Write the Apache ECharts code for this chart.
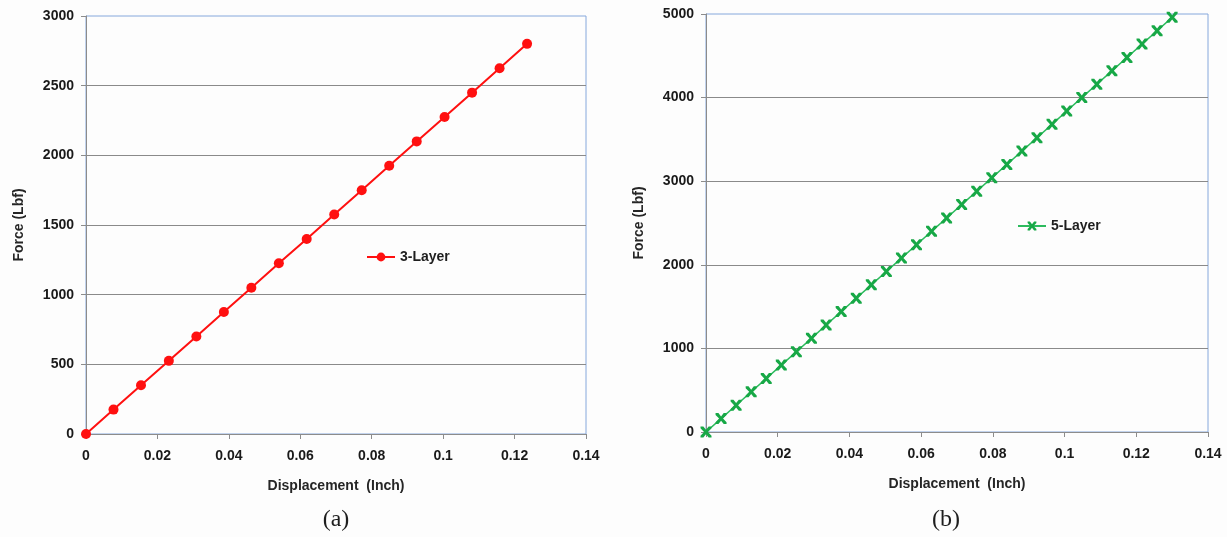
<!DOCTYPE html>
<html>
<head>
<meta charset="utf-8">
<script src="https://cdn.jsdelivr.net/npm/echarts@6/dist/echarts.min.js"></script>
<style>
  html, body { margin: 0; padding: 0; background: #fff; }
  #main { width: 1227px; height: 537px; }
</style>
</head>
<body>
<div id="main"></div>
<script>
// (a) 3-Layer
const disp3 = [0, 0.0077, 0.0154, 0.0232, 0.0309, 0.0386, 0.0463, 0.054, 0.0618, 0.0695, 0.0772, 0.0849, 0.0926, 0.1004, 0.1081, 0.1158, 0.1235]
const force3 = [0, 175, 350, 525, 700, 875, 1050, 1225, 1400, 1575, 1750, 1925, 2100, 2275, 2450, 2625, 2800]
// (b) 5-Layer
const disp5 = [0, 0.0042, 0.0084, 0.0126, 0.0168, 0.021, 0.0252, 0.0294, 0.0335, 0.0377, 0.0419, 0.0461, 0.0503, 0.0545, 0.0587, 0.0629,
  0.0671, 0.0713, 0.0755, 0.0797, 0.0839, 0.0881, 0.0923, 0.0965, 0.1006, 0.1048, 0.109, 0.1132, 0.1174, 0.1216, 0.1258, 0.13]
const force5 = [0, 160, 320, 480, 640, 800, 960, 1120, 1280, 1440, 1600, 1760, 1920, 2080, 2240, 2400,
  2560, 2720, 2880, 3040, 3200, 3360, 3520, 3680, 3840, 4000, 4160, 4320, 4480, 4640, 4800, 4960]

const seriesNames = ['3-Layer', '5-Layer']
const panelLabels = ['(a)', '(b)']

const font = 'Liberation Sans'
// 星形标记（X 加上下横线）
const starPath = 'path://M0,0 L2.6,0 L5,3 L7.4,0 L10,0 L10,1.6 L6.8,5 L10,8.4 L10,10 L7.4,10 L5,7 L2.6,10 L0,10 L0,8.4 L3.2,5 L0,1.6 Z'

function xAxisOf(gridIndex) {
  return {
    type: 'value',
    gridIndex: gridIndex,
    min: 0,
    max: 0.14,
    interval: 0.02,
    name: 'Displacement  (Inch)',
    nameLocation: 'middle',
    nameGap: 45,
    nameTextStyle: { fontFamily: font, fontWeight: 'bold', fontSize: 14, color: '#262626' },
    axisLine: { show: true, lineStyle: { color: '#8c8c8c', width: 1 } },
    axisTick: { show: true, length: 5, lineStyle: { color: '#8c8c8c' } },
    axisLabel: { fontFamily: font, fontWeight: 'bold', fontSize: 14, color: '#1a1a1a', margin: 15 },
    splitLine: { show: false }
  }
}

function yAxisOf(gridIndex, max, interval) {
  return {
    type: 'value',
    gridIndex: gridIndex,
    min: 0,
    max: max,
    interval: interval,
    name: 'Force (Lbf)',
    nameLocation: 'middle',
    nameGap: 60,
    nameTextStyle: { fontFamily: font, fontWeight: 'bold', fontSize: 14, color: '#262626' },
    axisLine: { show: true, lineStyle: { color: '#8c8c8c', width: 1 } },
    axisTick: { show: true, length: 5, lineStyle: { color: '#8c8c8c' } },
    axisLabel: { fontFamily: font, fontWeight: 'bold', fontSize: 14, color: '#1a1a1a', margin: 12, formatter: v => String(v) },
    splitLine: { show: true, showMaxLine: false, lineStyle: { color: '#8a8a8a', width: 1 } }
  }
}

const chart = echarts.init(document.getElementById('main'), null, { renderer: 'canvas' })

const option = {
  animation: false,
  backgroundColor: '#fdfdfd',
  grid: [
    { left: 86, right: 641, top: 16, bottom: 103, show: true, borderColor: '#86a8dc', borderWidth: 1, backgroundColor: 'transparent' },
    { left: 706, right: 19, top: 14, bottom: 105, show: true, borderColor: '#86a8dc', borderWidth: 1, backgroundColor: 'transparent' }
  ],
  legend: [
    {
      data: [seriesNames[0]],
      left: 361,
      top: 245,
      itemWidth: 28,
      itemHeight: 11,
      itemGap: 2,
      textStyle: { fontFamily: font, fontWeight: 'bold', fontSize: 14, color: '#1e1e1e' }
    },
    {
      data: [seriesNames[1]],
      left: 1012,
      top: 214,
      itemWidth: 28,
      itemHeight: 11,
      itemGap: 2,
      textStyle: { fontFamily: font, fontWeight: 'bold', fontSize: 14, color: '#1e1e1e' }
    }
  ],
  xAxis: [xAxisOf(0), xAxisOf(1)],
  yAxis: [yAxisOf(0, 3000, 500), yAxisOf(1, 5000, 1000)],
  series: [
    {
      name: seriesNames[0],
      type: 'line',
      xAxisIndex: 0,
      yAxisIndex: 0,
      data: disp3.map((x, i) => [x, force3[i]]),
      symbol: 'circle',
      symbolSize: 10,
      lineStyle: { color: '#ff1010', width: 2 },
      itemStyle: { color: '#ff1010' }
    },
    {
      name: seriesNames[1],
      type: 'line',
      xAxisIndex: 1,
      yAxisIndex: 1,
      data: disp5.map((x, i) => [x, force5[i]]),
      symbol: starPath,
      symbolSize: 11,
      lineStyle: { color: '#2dbb5e', width: 1.5 },
      itemStyle: { color: '#17a846' }
    }
  ],
  // 面板标注 (a) / (b)
  graphic: [
    {
      type: 'text',
      x: 336,
      y: 508,
      style: { text: panelLabels[0], font: '24px "Liberation Serif"', fill: '#1e1e1e', textAlign: 'center' }
    },
    {
      type: 'text',
      x: 946,
      y: 508,
      style: { text: panelLabels[1], font: '24px "Liberation Serif"', fill: '#1e1e1e', textAlign: 'center' }
    }
  ]
}

chart.setOption(option)
</script>
</body>
</html>
